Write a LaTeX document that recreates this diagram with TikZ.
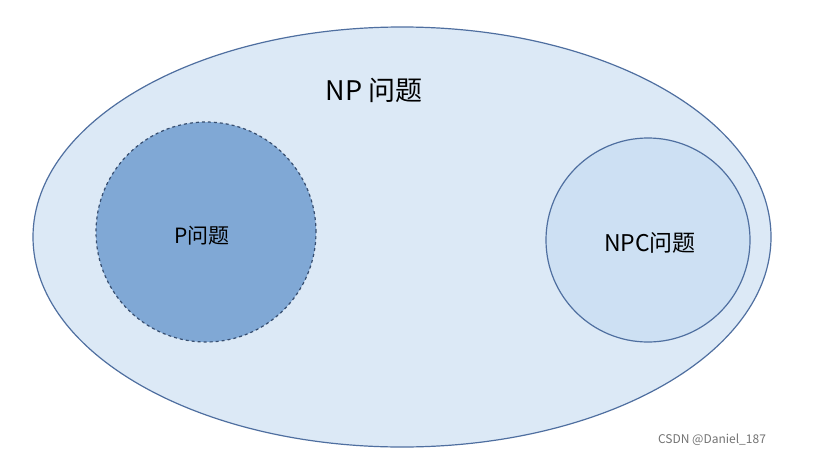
\documentclass[tikz,border=0pt]{standalone}
\usepackage{fontspec}
\usetikzlibrary{shapes.geometric}
\setmainfont{Noto Sans CJK SC}
\begin{document}
\begin{tikzpicture}[x=1pt,y=-1pt]
\definecolor{edge}{HTML}{4F6FA0}
\definecolor{outerfill}{HTML}{DCE9F6}
\definecolor{pfill}{HTML}{80A8D5}
\definecolor{npcfill}{HTML}{CDE0F3}
\tikzset{region/.style={draw=edge,line width=1.2pt}}
\useasboundingbox[fill=white] (0,0) rectangle (816,455);
\node[region,ellipse,fill=outerfill,minimum width=738pt,minimum height=420pt,inner sep=0pt] (np) at (402,237) {};
\node[region,circle,fill=pfill,dashed,draw=edge!70!black,minimum size=220pt,inner sep=0pt] (p) at (206,232) {};
\node[region,circle,fill=npcfill,minimum size=204pt,inner sep=0pt] (npc) at (648,240) {};
\node[font=\fontsize{27}{30}\selectfont] (tnp) at (374,90) {NP 问题};
\node[font=\fontsize{21}{24}\selectfont] (tp) at (202,236) {P问题};
\node[font=\fontsize{23}{26}\selectfont] (tnpc) at (650,243) {NPC问题};
\node[font=\fontsize{12}{14}\selectfont,text=gray!90!black] (wm) at (712,440) {CSDN @Daniel\_187};
\end{tikzpicture}
\end{document}
